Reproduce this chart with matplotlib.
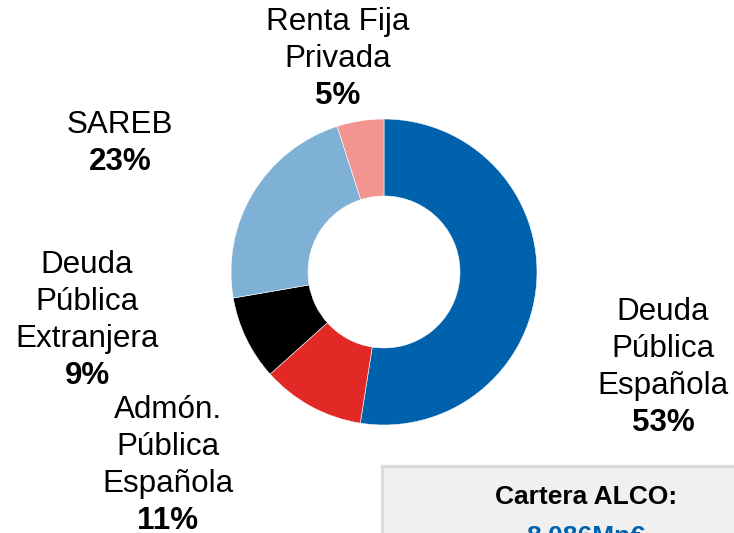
import matplotlib.pyplot as plt
from matplotlib.patches import Rectangle

plt.rcParams['font.family'] = ['Liberation Sans', 'DejaVu Sans']

# data (clockwise from 12 o'clock)
labels = ['Deuda\nPública\nEspañola', 'Admón.\nPública\nEspañola', 'Deuda\nPública\nExtranjera',
          'SAREB', 'Renta Fija\nPrivada']
shares = [53, 11, 9, 23, 5]
colors = ['#0062AD', '#E32926', '#000000', '#7FB0D6', '#F29591']
# label centres in pixel coords (x, y of top line from top of figure)
label_pos = [(663, 312), (168, 410), (87, 265), (120, 125), (338, 22)]
total_text = '8.086Mn€'

W, H = 734, 533
fig = plt.figure(figsize=(W / 100, H / 100), dpi=100)
ax = fig.add_axes([0, 0, 1, 1])

ax.pie(shares, colors=colors, startangle=90, counterclock=False,
       center=(384, H - 272), radius=153, frame=True,
       wedgeprops=dict(width=77, edgecolor='white', linewidth=0.4))
ax.set_xlim(0, W)
ax.set_ylim(0, H)
ax.set_aspect('equal')
ax.axis('off')

line_h = 37
for lab, s, (x, y) in zip(labels, shares, label_pos):
    lines = lab.split('\n')
    for i, ln in enumerate(lines):
        ax.text(x, H - (y + i * line_h), ln, ha='center', va='center', fontsize=22.6, color='black')
    ax.text(x, H - (y + len(lines) * line_h), '{}%'.format(s), ha='center', va='center',
            fontsize=22.6, fontweight='bold', color='black')

# summary box with soft shadow, cut by the figure edge
for k, a in enumerate([0.08, 0.12, 0.18]):
    off = 3 - k
    ax.add_patch(Rectangle((383 - off, -40), 420, H - 467 + 40 + off,
                           facecolor='#888888', edgecolor='none', alpha=a))
ax.add_patch(Rectangle((383, -40), 420, H - 467 + 40, facecolor='#f0f0f0', edgecolor='#dcdcdc', linewidth=0.8))
ax.text(586, H - 497, 'Cartera ALCO:', ha='center', va='center', fontsize=19, fontweight='bold', color='black')
ax.text(586, H - 537, total_text, ha='center', va='center', fontsize=19, fontweight='bold', color='#0062AD')

fig.savefig('out.png', dpi=100)
